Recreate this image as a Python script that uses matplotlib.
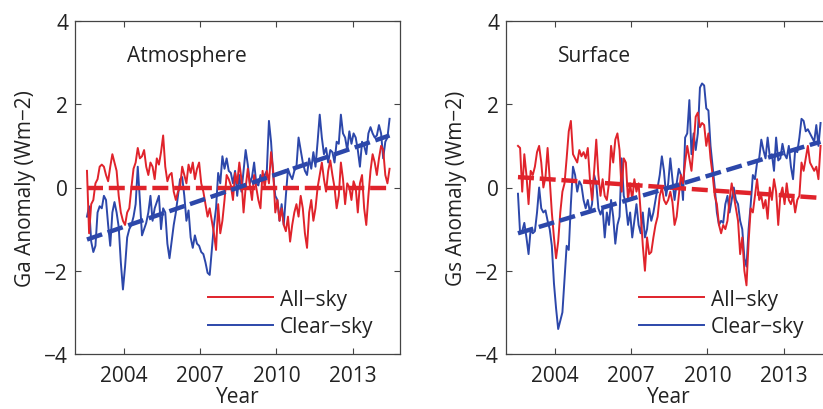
import numpy as np
import matplotlib
matplotlib.use("Agg")
import matplotlib.pyplot as plt

plt.rcParams['font.family'] = ['Open Sans', 'DejaVu Sans']

# monthly anomalies, Jul 2002 .. Jun 2014 (144 months)
atm_all = [0.4, -1.1, -0.4, -0.3, 0.1, 0.2, 0.5, 0.55, 0.5, 0.3,
           0.15, 0.5, 0.8, 0.6, 0.4, -0.2, -0.6, -0.8, -0.9, -0.6,
           -0.5, 0.0, 0.45, 0.6, 0.95, 0.7, 0.75, 0.9, 0.5, 0.3,
           0.6, 0.5, 0.2, 0.7, 0.55, 0.85, 1.25, 0.5, 0.15, 0.3,
           0.35, -0.1, -0.3, -0.1, 0.0, 0.5, 0.3, 0.1, 0.55, 0.35,
           0.6, 0.2, 0.45, 0.6, 0.1, -0.1, -0.4, -0.7, -0.5, -0.8,
           -1.1, -1.5, -0.4, -1.1, -0.8, -0.3, 0.3, 0.2, 0.05, -0.3,
           0.35, 0.1, 0.6, 0.2, -0.6, 0.0, 0.45, 0.05, -0.3, 0.3,
           0.0, -0.3, -0.5, 0.4, 0.0, 0.4, 0.1, 0.85, 0.4, -0.6,
           -0.3, -0.8, -0.5, -0.9, -1.05, -0.7, -1.3, -0.9, -0.6, -0.4,
           -0.7, -0.2, -0.5, -1.1, -1.45, -0.6, -0.3, -0.8, -0.5, 0.0,
           0.3, 0.6, 0.2, -0.1, 0.4, 0.65, 0.3, 0.0, -0.5, -0.2,
           0.6, 0.2, -0.4, 0.1, 0.0, -0.3, 0.15, 0.0, -0.6, 0.1,
           0.3, -0.5, -0.9, -0.2, 0.4, 0.8, 0.6, 0.3, 0.7, 1.0,
           0.9, 0.3, 0.1, 0.45]
atm_clear = [-0.7, -0.45, -1.3, -1.55, -1.4, -0.6, -0.45, -0.5, -0.2, -0.3,
             -0.9, -1.4, -0.6, -0.35, -0.6, -0.95, -1.8, -2.45, -1.9, -1.2,
             -1.0, -0.9, -0.7, -0.4, 0.5, -0.3, -1.15, -1.0, -0.85, -0.6,
             -0.2, -0.8, -0.5, -0.35, -0.2, -1.0, -0.5, -0.6, -1.35, -1.7,
             -1.3, -0.9, -0.6, -0.2, 0.2, 0.25, -0.2, -0.8, -0.55, -1.2,
             -1.45, -1.15, -1.35, -1.4, -1.55, -1.6, -1.8, -2.05, -2.1, -1.5,
             -0.9, -0.5, 0.35, 0.1, 0.75, 0.45, 0.7, 0.4, 0.35, 0.1,
             0.4, -0.2, 0.3, -0.1, 0.4, 0.9, 0.55, 0.1, 0.25, 0.6,
             0.1, 0.05, 0.3, 0.2, 0.3, 0.4, 1.6, 1.1, 0.3, -0.2,
             -0.3, -0.8, -0.4, -0.9, -0.2, 0.45, 0.3, 0.2, 0.4, 0.5,
             1.2, 0.9, 0.6, 0.4, 0.3, 0.7, 0.45, 0.85, 0.5, 1.1,
             1.75, 1.2, 0.8, 0.95, 0.6, 0.9, 0.85, 0.6, 1.1, 1.05,
             1.75, 1.3, 1.2, 0.9, 1.35, 1.05, 1.3, 1.2, 0.9, 0.5,
             1.1, 1.0, 0.8, 1.3, 1.45, 1.3, 1.2, 1.25, 1.5, 1.3,
             0.7, 1.1, 1.2, 1.65]
sfc_all = [1.0, 0.95, -0.1, 0.8, 0.3, -0.4, 0.4, 0.3, 0.5, 0.85,
           1.0, 0.6, 0.0, 0.25, 0.95, 0.2, -0.6, -1.2, -1.7, -1.3,
           -0.6, -0.1, 0.1, 0.7, 1.35, 1.6, 0.8, 0.7, 0.6, 0.9,
           0.75, 0.85, 0.7, 0.95, 0.2, -0.3, 0.4, 1.15, 0.3, -0.2,
           0.2, -0.2, -0.3, 0.1, 1.0, 0.6, 1.15, 1.3, 0.9, -0.1,
           0.7, 0.6, -0.3, 0.1, -0.3, 0.2, -0.1, 0.1, -0.6, -1.4,
           -2.0, -1.2, -1.6, -1.55, -1.2, -0.9, -0.7, -0.2, 0.0, -0.3,
           -0.4, -0.3, -0.1, -0.35, -0.9, -0.7, -0.2, 0.3, 0.1, 0.6,
           1.0, 0.7, 0.4, 1.0, 1.7, 1.8, 1.45, 1.55, 1.5, 1.0,
           1.3, 0.7, 0.3, -0.2, -0.4, -0.9, -1.1, -0.9, -1.0, -0.8,
           -0.3, 0.1, -0.2, -0.5, -0.8, -1.6, -1.2, -2.0, -2.35, -1.3,
           -0.5, -0.6, -0.2, 0.2, -0.3, -0.2, -0.5, -0.3, -0.75, 0.0,
           -0.3, 0.2, -0.1, -0.9, -0.2, 0.0, -0.4, 0.1, -0.3, -0.4,
           -0.2, -0.6, -0.3, -0.2, 0.6, 0.4, 0.7, 1.0, 0.6, 0.5,
           0.4, 0.5, 0.2, 1.0]
sfc_clear = [-0.15, -1.1, -1.05, -0.85, -1.2, -1.6, -1.0, -1.1, -1.05, -0.6,
             0.0, -0.5, -0.6, -0.55, -0.8, -1.0, -1.4, -2.3, -2.9, -3.4,
             -3.2, -3.0, -2.2, -1.4, -1.5, -0.4, 0.5, 0.3, -0.1, 0.15,
             0.05, -0.3, -0.5, -0.3, -0.6, -0.4, 0.3, 0.1, -0.5, -0.65,
             -0.5, -1.2, -0.6, -0.9, -0.3, -0.7, -1.35, -0.9, -0.7, 0.7,
             -0.2, -0.4, -0.9, -0.6, -1.2, -0.8, -0.4, -0.9, -1.1, -0.6,
             -1.2, -1.0, -0.5, -0.8, -0.6, -0.3, 0.0, 0.3, 0.75, 0.4,
             -0.2, 0.1, 0.7, 0.2, -0.3, 0.1, 0.45, 0.3, -0.3, 1.2,
             1.3, 2.1, 0.8, 1.3, 0.9, 1.3, 2.4, 2.5, 2.45, 1.9,
             1.85, 1.0, 0.5, 0.0, -0.6, -0.9, -0.8, -0.85, -0.4, -0.2,
             -0.6, -0.3, 0.0, -0.3, -0.4, -0.8, -1.0, -1.7, -1.9, -1.0,
             -0.4, 0.3, 0.2, 0.6, 0.7, 1.15, 0.9, 0.7, 1.2, 0.75,
             0.8, 0.4, 1.2, 0.65, 0.7, 1.05, 0.8, 0.7, 1.0, 0.5,
             0.2, 0.9, 0.85, 1.2, 1.65, 1.6, 1.35, 1.4, 1.3, 1.2,
             1.1, 1.5, 1.0, 1.55]

# linear trends: (start, end) value
atm_all_trend = (0.0, 0.0)
atm_clear_trend = (-1.25, 1.25)
sfc_all_trend = (0.25, -0.25)
sfc_clear_trend = (-1.1, 1.1)

panels = [
    ("Atmosphere", "Ga Anomaly (Wm\u22122)", atm_all, atm_clear, atm_all_trend, atm_clear_trend),
    ("Surface", "Gs Anomaly (Wm\u22122)", sfc_all, sfc_clear, sfc_all_trend, sfc_clear_trend),
]

RED = "#e0232b"
BLUE = "#2c47aa"
FS = 15

months = np.arange(len(atm_all))
t = 2002 + (6.5 + months) / 12.0
t_ends = [t[0], t[-1]]

fig = plt.figure(figsize=(8.23, 4.10), dpi=100)
lefts = [75 / 823, 506 / 823]

for left, (name, ylab, all_sky, clear_sky, tr_all, tr_clear) in zip(lefts, panels):
    ax = fig.add_axes([left, 1 - 355 / 410, 325 / 823, 333 / 410])
    ax.plot(t, clear_sky, color=BLUE, lw=1.4, label="Clear\u2212sky", zorder=2)
    ax.plot(t, all_sky, color=RED, lw=1.4, label="All\u2212sky", zorder=3)
    l1, = ax.plot(t_ends, tr_all, color=RED, lw=3.2, zorder=4)
    l1.set_dashes([3.6, 1.3])
    l2, = ax.plot(t_ends, tr_clear, color=BLUE, lw=3.2, zorder=5)
    l2.set_dashes([3.6, 1.3])

    ax.set_xlim(2002.07, 2014.87)
    ax.set_ylim(-4, 4)
    ax.set_xticks([2004, 2007, 2010, 2013])
    ax.set_yticks([-4, -2, 0, 2, 4])
    ax.tick_params(direction="in", top=True, right=True, length=4,
                   width=0.8, color="#444444", labelsize=FS,
                   labelcolor="#222222")
    ax.tick_params(axis="x", pad=8)
    ax.tick_params(axis="y", pad=5)
    for sp in ax.spines.values():
        sp.set_color("#444444")
        sp.set_linewidth(0.9)
    ax.set_ylabel(ylab, fontsize=FS, color="#222222", labelpad=6)
    ax.set_xlabel("Year", fontsize=FS, color="#222222", labelpad=0)
    ax.text(0.16, 0.895, name, transform=ax.transAxes, fontsize=FS,
            color="#222222", va="center", ha="left")

    h, lb = ax.get_legend_handles_labels()
    ax.legend(h[::-1], lb[::-1], loc="upper left", bbox_to_anchor=(0.409, 0.196),
              frameon=False, fontsize=FS, handlelength=3.1, handletextpad=0.35,
              borderpad=0, borderaxespad=0, labelspacing=0.3,
              labelcolor="#222222")

fig.savefig("out.png", dpi=100)
